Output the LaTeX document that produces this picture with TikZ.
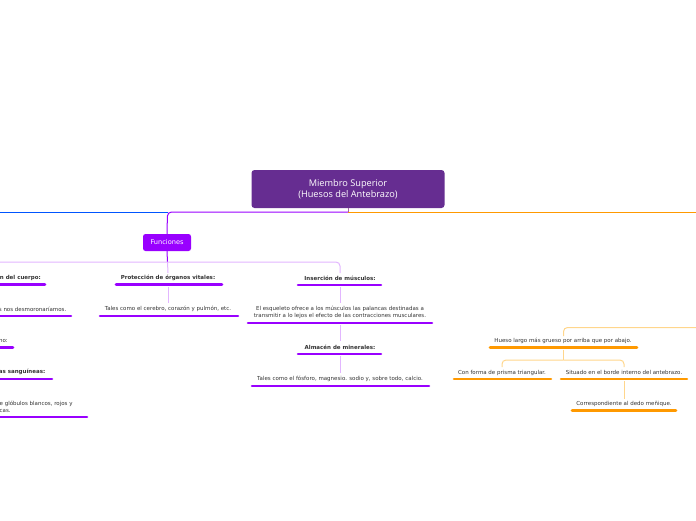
\documentclass[tikz,border=0pt]{standalone}
\usepackage{fontspec}
\setmainfont{DejaVu Sans}
\newfontfamily\centfont{Open Sans}
\definecolor{cpurple}{HTML}{662D91}
\definecolor{vpurple}{HTML}{9900FF}
\definecolor{lpurple}{HTML}{E2B6FF}
\definecolor{corange}{HTML}{FF9900}
\definecolor{lorange}{HTML}{FFD68C}
\definecolor{cblue}{HTML}{0055FF}
\definecolor{txtgray}{HTML}{333333}
\tikzset{
  txt/.style={inner sep=0pt, text=txtgray, font=\fontsize{5.5}{7}\selectfont, align=center},
  btxt/.style={txt, font=\fontsize{5.5}{7}\selectfont\bfseries},
  ulp/.style={draw=vpurple, line width=2.6pt, line cap=round},
  ulo/.style={draw=corange, line width=2.6pt, line cap=round},
  thinp/.style={draw=lpurple, line width=1pt, rounded corners=4pt},
  thino/.style={draw=lorange, line width=1pt, rounded corners=4pt},
}
\begin{document}
\begin{tikzpicture}[x=1pt, y=-1pt]
\useasboundingbox (0,0) rectangle (696,520);
% main branch lines
\coordinate (L) at (0,212);
\coordinate (R) at (696,212);
\coordinate (J) at (348,212);
\draw[cblue, line width=1pt] (L) -- (168,212);
\draw[corange, line width=1pt] (J) -- (R);
% central node
\node[fill=cpurple, rounded corners=3pt, minimum width=193pt, minimum height=38pt, text=white, align=center,
      font=\centfont\fontsize{9.2}{11.5}\selectfont, inner sep=0pt] (central) at (348,189)
      {Miembro Superior\\(Huesos del Antebrazo)};
\draw[cpurple!60!pink, line width=1pt] (central.south) -- (J);
% Funciones
\node[fill=vpurple, rounded corners=2.5pt, minimum width=48pt, minimum height=17pt, text=white,
      font=\fontsize{6.6}{8}\selectfont, inner sep=0pt] (func) at (167,242.5) {Funciones};
\draw[vpurple, line width=1pt, rounded corners=4pt] (J) -- (167.5,212) -- (func.north);
% sub-branch
\coordinate (H) at (167.5,262);
\draw[vpurple, line width=1pt] (func.south) -- (H);
\draw[thinp] (0,262) -- (340,262) -- (340,273);
\draw[thinp] (H) -- (168,273);

% Protección
\node[btxt] (prot) at (168,278) {Protección de órganos vitales:};
\draw[ulp] (116,284.5) -- (222,284.5);
\node[txt] (prot2) at (168,309) {Tales como el cerebro, corazón y pulmón, etc.};
\draw[ulp] (100,316) -- (238,316);
\draw[thinp] (168,286.5) -- (168,303);

% Inserción
\node[btxt] (ins) at (340,278) {Inserción de músculos:};
\draw[ulp] (298,285) -- (381,285);
\node[txt] (ins2) at (340,312.5) {El esqueleto ofrece a los músculos las palancas destinadas a\\transmitir a lo lejos el efecto de las contracciones musculares.};
\draw[ulp] (248,323) -- (432,323);
\draw[thinp] (340,287) -- (340,303);
\node[btxt] (alm) at (340,347) {Almacén de minerales:};
\draw[ulp] (298,354) -- (381,354);
\draw[thinp] (340,325) -- (340,341);
\node[txt] (alm2) at (340,379) {Tales como el fósforo, magnesio. sodio y, sobre todo, calcio.};
\draw[ulp] (252,386) -- (429,386);
\draw[thinp] (340,356) -- (340,373);

% left column fragments
\node[btxt, anchor=east] (l1) at (41,278) {n del cuerpo:};
\draw[ulp] (-2,284.5) -- (45,284.5);
\node[txt, anchor=east] (l2) at (66.5,309) {s nos desmoronaríamos.};
\draw[ulp] (-2,316) -- (71,316);
\node[txt, anchor=east] (l3) at (8,341) {no:};
\draw[ulp] (-2,347.5) -- (13,347.5);
\node[btxt, anchor=east] (l4) at (45.5,372) {as sanguíneas:};
\draw[ulp] (-2,379) -- (52,379);
\node[txt, anchor=west, align=left] (l5) at (-0.5,407) {e glóbulos blancos, rojos y\\cas.};
\draw[ulp] (-2,417) -- (87,417);

% right (orange) branch
\node[txt] (hueso) at (563,341) {Hueso largo más grueso por arriba que por abajo.};
\draw[ulo] (490,347.5) -- (637,347.5);
\draw[thino] (697,327.5) -- (563.5,327.5) -- (563.5,336);
\coordinate (H2) at (563.5,360);
\draw[thino] (563.5,349.5) -- (H2);
\draw[thino] (H2) -- (502,360) -- (502,367);
\draw[thino] (H2) -- (624,360) -- (624,367);
\node[txt] (prisma) at (502,372.5) {Con forma de prisma triangular.};
\draw[ulo] (454,379) -- (551,379);
\node[txt] (situ) at (624,372.5) {Situado en el borde interno del antebrazo.};
\draw[ulo] (561,379) -- (687,379);
\draw[thino] (624,381) -- (624,399);
\node[txt] (dedo) at (624,404) {Correspondiente al dedo meñique.};
\draw[ulo] (572,410.5) -- (676,410.5);
\end{tikzpicture}
\end{document}
